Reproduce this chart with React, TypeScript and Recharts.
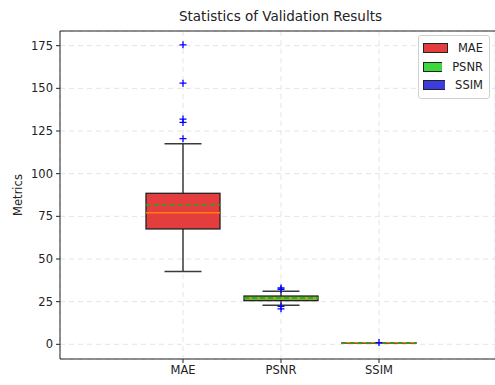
import React from 'react';
import { ComposedChart, Bar, Scatter, XAxis, YAxis, CartesianGrid, ReferenceLine } from 'recharts';

const categories = ['MAE', 'PSNR', 'SSIM'];
const whiskerLow = [42.6, 22.9, 0.75];
const q1Values = [67.6, 25.6, 0.82];
const medianValues = [77.1, 27.0, 0.88];
const meanValues = [81.6, 27.2, 0.87];
const q3Values = [88.5, 28.3, 0.93];
const whiskerHigh = [117.6, 31.1, 0.98];
const outliers = [
  [175.5, 153, 132, 130, 120.5],
  [33.0, 32.2, 22.2, 20.8],
  [1.0],
];
const boxColors = ['#e33d3d', '#3ad83a', '#3c3cdc'];
const yTicks = [0, 25, 50, 75, 100, 125, 150, 175];
const yDomain: [number, number] = [-8.6, 183.6];

const data = categories.map((cat, i) => {
  const row: any = {
    cat,
    whisker: [whiskerLow[i], whiskerHigh[i]],
    box: [q1Values[i], q3Values[i]],
    q1: q1Values[i],
    q3: q3Values[i],
    median: medianValues[i],
    mean: meanValues[i],
    color: boxColors[i],
  };
  for (let k = 0; k < 5; k++) row['o' + k] = outliers[i][k] ?? null;
  return row;
});

const FONT = 'DejaVu Sans, sans-serif';
const LINE = '#3a3a3a';

const WhiskerShape = (props: any) => {
  const { x, y, width, height } = props;
  if (![x, y, width, height].every(Number.isFinite)) return <g />;
  const top = Math.min(y, y + height);
  const bot = Math.max(y, y + height);
  const cx = x + width / 2;
  const capHalf = width / 4;
  return (
    <g>
      <line x1={cx} x2={cx} y1={top} y2={bot} stroke={LINE} strokeWidth={1.5} />
      <line x1={cx - capHalf} x2={cx + capHalf} y1={top} y2={top} stroke={LINE} strokeWidth={1.5} />
      <line x1={cx - capHalf} x2={cx + capHalf} y1={bot} y2={bot} stroke={LINE} strokeWidth={1.5} />
    </g>
  );
};

const BoxShape = (props: any) => {
  const { x, y, width, payload } = props;
  let { height } = props;
  if (![x, y, width, height].every(Number.isFinite)) return <g />;
  const top = Math.min(y, y + height);
  const h = Math.abs(height);
  const span = payload.q3 - payload.q1;
  const medY = top + (h * (payload.q3 - payload.median)) / span;
  const meanY = top + (h * (payload.q3 - payload.mean)) / span;
  return (
    <g>
      <rect x={x} y={top} width={width} height={Math.max(h, 0.5)} fill={payload.color} stroke="#222" strokeWidth={1.3} />
      <line x1={x} x2={x + width} y1={medY} y2={medY} stroke="#ff7f0e" strokeWidth={1.5} />
      <line x1={x} x2={x + width} y1={meanY} y2={meanY} stroke="#2ca02c" strokeWidth={1.5} strokeDasharray="5 3" />
    </g>
  );
};

const PlusShape = (props: any) => {
  const { cx, cy, payload, dataKey } = props;
  const v = payload ? payload[dataKey] : null;
  if (v === null || v === undefined || !Number.isFinite(cx) || !Number.isFinite(cy)) return <g />;
  const s = 3.5;
  return (
    <g>
      <line x1={cx - s} x2={cx + s} y1={cy} y2={cy} stroke="#0000ff" strokeWidth={1.3} />
      <line x1={cx} x2={cx} y1={cy - s} y2={cy + s} stroke="#0000ff" strokeWidth={1.3} />
    </g>
  );
};

const LegendBox = () => (
  <div
    style={{
      position: 'absolute',
      left: 418,
      top: 35,
      width: 60,
      border: '1px solid #d0d0d0',
      borderRadius: 3,
      background: 'rgba(255,255,255,0.85)',
      padding: '3px 6px 3px 4px',
      fontFamily: FONT,
      fontSize: 11.5,
      color: '#222',
      zIndex: 2,
    }}
  >
    {categories.map((c, i) => (
      <div key={c} style={{ display: 'flex', alignItems: 'center', height: 18.5 }}>
        <svg width={25} height={10} style={{ marginRight: 10, display: 'block' }}>
          <rect x={0.5} y={0.5} width={24} height={9} fill={boxColors[i]} stroke="#222" strokeWidth={1} />
        </svg>
        <span>{c}</span>
      </div>
    ))}
  </div>
);

const YLabel = (props: any) => {
  const vb = props.viewBox || {};
  const x = (vb.x ?? 0) + 18;
  const y = (vb.y ?? 0) + (vb.height ?? 0) / 2;
  return (
    <text x={x} y={y} transform={`rotate(-90, ${x}, ${y})`} textAnchor="middle" dominantBaseline="central" fontFamily={FONT} fontSize={11.5} fill="#222">
      Metrics
    </text>
  );
};

export default function App() {
  const padding = { left: 74, right: 67 };
  return (
    <div style={{ position: 'absolute', left: 0, top: 0, width: 495, height: 385, background: '#fff' }}>
      <div
        style={{
          position: 'absolute',
          left: 60,
          width: 441,
          top: 8,
          textAlign: 'center',
          fontFamily: FONT,
          fontSize: 13.5,
          color: '#222',
          lineHeight: '16px',
        }}
      >
        Statistics of Validation Results
      </div>
      <LegendBox />
      <ComposedChart width={495} height={385} data={data} margin={{ top: 31, right: 0, bottom: 0, left: 0 }}>
        <CartesianGrid xAxisId="main" stroke="#e4e4e4" strokeDasharray="5 4" />
        <XAxis
          xAxisId="main"
          dataKey="cat"
          type="category"
          padding={padding}
          height={26}
          tickSize={4}
          tickMargin={3}
          axisLine={{ stroke: '#222' }}
          tickLine={{ stroke: '#222' }}
          tick={{ fontFamily: FONT, fontSize: 11.5, fill: '#222' }}
        />
        <XAxis xAxisId="w" dataKey="cat" type="category" padding={padding} hide />
        <YAxis
          domain={yDomain}
          ticks={yTicks}
          allowDataOverflow
          width={60}
          tickSize={4}
          tickMargin={3}
          axisLine={{ stroke: '#222' }}
          tickLine={{ stroke: '#222' }}
          tick={{ fontFamily: FONT, fontSize: 11.5, fill: '#222' }}
          label={<YLabel />}
        />
        <ReferenceLine xAxisId="main" y={yDomain[1]} stroke="#222" strokeWidth={1} />
        <Bar xAxisId="w" dataKey="whisker" barSize={74} shape={<WhiskerShape />} isAnimationActive={false} />
        <Bar xAxisId="main" dataKey="box" barSize={74} shape={<BoxShape />} isAnimationActive={false} />
        {[0, 1, 2, 3, 4].map((k) => (
          <Scatter key={k} xAxisId="main" dataKey={'o' + k} shape={<PlusShape dataKey={'o' + k} />} isAnimationActive={false} />
        ))}
      </ComposedChart>
    </div>
  );
}
